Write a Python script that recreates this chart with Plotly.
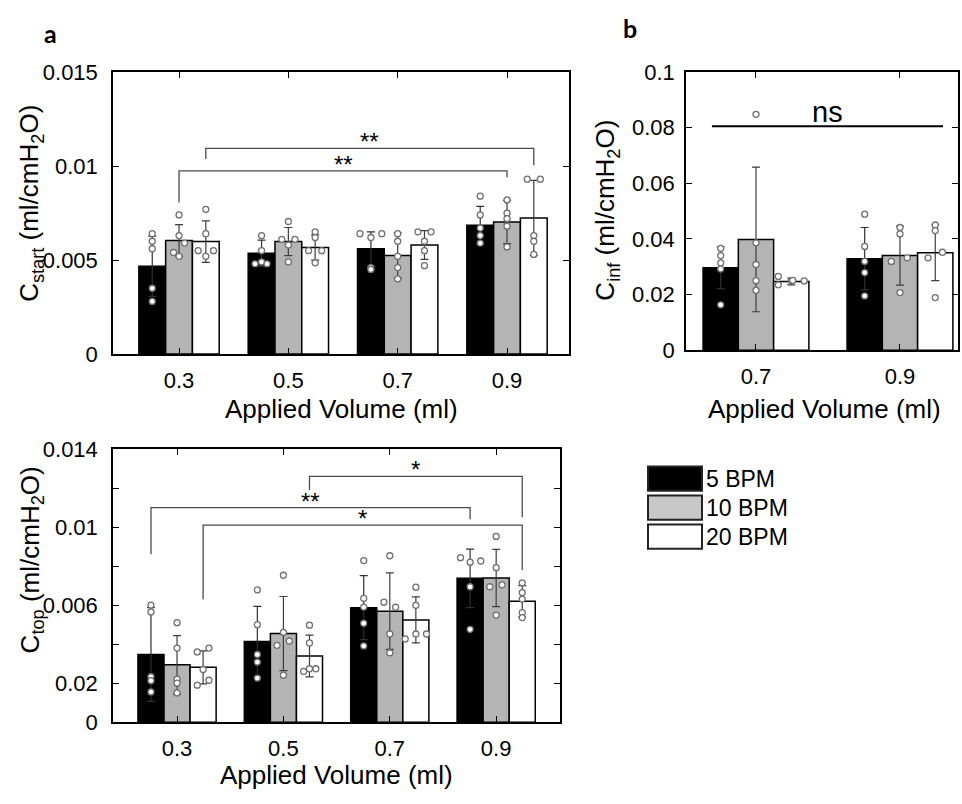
import plotly.graph_objects as go

# ---------------- data ----------------
volumes = ["0.3", "0.5", "0.7", "0.9"]
volumes_b = ["0.7", "0.9"]
series = ["5 BPM", "10 BPM", "20 BPM"]

# Panel a (top): C_start
start_mean_5 = [0.00467, 0.00536, 0.00560, 0.00685]
start_mean_10 = [0.00604, 0.00598, 0.00524, 0.00702]
start_mean_20 = [0.00598, 0.00567, 0.00580, 0.00724]
start_sd_5 = [0.0016, 0.0007, 0.0009, 0.0010]
start_sd_10 = [0.00084, 0.00075, 0.0012, 0.00115]
start_sd_20 = [0.0011, 0.00067, 0.00076, 0.0020]
start_pts_5 = [[0.0064, 0.0060, 0.0056, 0.0035, 0.0028],
               [0.0063, 0.0055, 0.0049, 0.0048, 0.0048],
               [0.0064, 0.0064, 0.0062, 0.0046, 0.0045],
               [0.0084, 0.0074, 0.0067, 0.0063, 0.0059]]
start_pts_10 = [[0.0074, 0.0063, 0.0059, 0.0054, 0.0052],
                [0.00705, 0.0061, 0.0061, 0.0058, 0.0049],
                [0.0064, 0.0060, 0.0052, 0.0046, 0.0040],
                [0.0082, 0.0075, 0.0072, 0.0068, 0.0057]]
start_pts_20 = [[0.0077, 0.0064, 0.0055, 0.0055, 0.0052],
                [0.0065, 0.0062, 0.0055, 0.0055, 0.00485],
                [0.0065, 0.0065, 0.0060, 0.0055, 0.0047],
                [0.0093, 0.0093, 0.0063, 0.0060, 0.0053]]

# Panel b: C_inf
inf_mean_5 = [0.0296, 0.0329]
inf_mean_10 = [0.0398, 0.0340]
inf_mean_20 = [0.0247, 0.0350]
inf_sd_5 = [0.0075, 0.0112]
inf_sd_10 = [0.0260, 0.0106]
inf_sd_20 = [0.0012, 0.0100]
inf_pts_5 = [[0.0366, 0.0340, 0.0314, 0.0292, 0.0163],
             [0.0489, 0.0373, 0.0319, 0.0279, 0.0195]]
inf_pts_10 = [[0.0848, 0.0386, 0.0308, 0.0250, 0.0215],
              [0.0441, 0.0418, 0.0332, 0.0319, 0.0207]]
inf_pts_20 = [[0.0265, 0.0235, 0.0250, 0.0251, 0.0249],
              [0.0450, 0.0430, 0.0352, 0.0332, 0.0189]]

# Panel a (bottom): C_top
top_mean_5 = [0.00347, 0.00414, 0.00587, 0.00737]
top_mean_10 = [0.00294, 0.00454, 0.00569, 0.00739]
top_mean_20 = [0.00281, 0.00339, 0.00524, 0.00620]
top_sd_5 = [0.0024, 0.0018, 0.00164, 0.0015]
top_sd_10 = [0.0015, 0.0019, 0.00196, 0.00147]
top_sd_20 = [0.00085, 0.00107, 0.00118, 0.0008]
top_pts_5 = [[0.0060, 0.00565, 0.00233, 0.00213, 0.00155],
             [0.00678, 0.0050, 0.00347, 0.00308, 0.00226],
             [0.00828, 0.00635, 0.0059, 0.00507, 0.00391],
             [0.00843, 0.0082, 0.00826, 0.00694, 0.00476]]
top_pts_10 = [[0.0051, 0.0038, 0.0022, 0.0020, 0.0015],
              [0.00753, 0.0046, 0.00394, 0.00416, 0.00241],
              [0.00853, 0.00615, 0.00589, 0.00452, 0.00356],
              [0.00952, 0.00792, 0.00694, 0.00704, 0.00549]]
top_pts_20 = [[0.0036, 0.0038, 0.0027, 0.0019, 0.00215],
              [0.00497, 0.00406, 0.0026, 0.00274, 0.00274],
              [0.00692, 0.00599, 0.00427, 0.00452, 0.00452],
              [0.00714, 0.00664, 0.00631, 0.00562, 0.00536]]

# significance brackets: (from cat, from series, to cat, to series, y, left leg end, right leg end, label)
start_sig = [(1, 1, 4, 1, 0.00974, 0.00806, 0.0094, "**"),
             (1, 2, 4, 2, 0.01094, 0.01038, 0.01004, "**")]
top_sig = [(2, 2, 4, 2, 0.0126, 0.0119, 0.0105, "*"),
           (1, 0, 4, 0, 0.0110, 0.0086, 0.0104, "**"),
           (1, 2, 4, 2, 0.0101, 0.0063, 0.0078, "*")]
inf_ns = (0.694, 2.299, 0.0805, "ns")

# ---------------- styles ----------------
W, H = 962, 804
FONT = "Liberation Sans, Arial, sans-serif"
BAR_W = 0.245
FILLS = ["#000000", "#b4b4b4", "#ffffff"]
ERR_COLORS = ["#303030", "#3c3c3c", "#3c3c3c"]
LEG_FILLS = ["#000000", "#c8c8c8", "#ffffff"]

# point jitter (style only), indexed [series][category][point]
start_jit = [[[0, 0, 0, 0, 0], [0, 0, 0, -0.06, 0.05], [-0.1, 0.1, 0, 0, 0], [0, 0, 0, 0, 0]],
             [[0, 0, 0.05, -0.05, 0], [0, -0.06, 0.06, 0, 0], [0, 0, 0, 0, 0], [0, 0, 0, 0, 0]],
             [[0, 0, -0.07, 0.07, 0], [0, 0, -0.06, 0.06, 0], [-0.06, 0.06, 0, 0, 0], [-0.06, 0.06, 0, 0, 0]]]
inf_jit = [[[0, 0, 0, 0, 0], [0, 0, 0, 0, 0]],
           [[0, 0, 0, 0, 0], [0, 0, 0.05, -0.06, 0]],
           [[-0.09, -0.09, 0, 0.01, 0.09], [0, 0, 0.05, -0.05, 0]]]
top_jit = [[[0, 0, 0, 0, 0], [0, 0, 0, 0, 0], [0, 0, 0, 0, 0], [-0.09, 0, 0.1, 0, 0]],
           [[0, 0, 0, 0, 0], [0, 0, -0.06, 0.055, 0], [0, -0.055, 0.055, 0, 0], [0, 0, -0.06, 0.055, 0]],
           [[-0.055, 0.055, 0, -0.055, 0.055], [0, 0, -0.055, 0, 0.06], [0, 0, -0.1, 0, 0.1], [0, 0, 0, 0, 0]]]


def px(x):
    return x / W


def py(y):
    return 1 - y / H


def bar_center(cat, s):
    return cat + (s - 1) * BAR_W


fig = go.Figure()


def add_panel(xa, ya, means, sds, pts, jits, ncat):
    cats = list(range(1, ncat + 1))
    for s in range(3):
        fig.add_trace(go.Bar(
            x=cats, y=means[s], width=BAR_W, offset=-1.5 * BAR_W + s * BAR_W,
            marker=dict(color=FILLS[s], line=dict(color="#000000", width=1.5)),
            error_y=dict(type="data", array=sds[s], color=ERR_COLORS[s], thickness=1.2, width=4),
            xaxis=xa, yaxis=ya, showlegend=False, hoverinfo="skip"))
    for s in range(3):
        xs, ys = [], []
        for c in range(ncat):
            for k, v in enumerate(pts[s][c]):
                xs.append(bar_center(c + 1, s) + jits[s][c][k])
                ys.append(v)
        fig.add_trace(go.Scatter(
            x=xs, y=ys, mode="markers",
            marker=dict(size=6, color="#ffffff", line=dict(color="#707070", width=1.3)),
            xaxis=xa, yaxis=ya, showlegend=False, hoverinfo="skip"))


add_panel("x", "y", [start_mean_5, start_mean_10, start_mean_20],
          [start_sd_5, start_sd_10, start_sd_20],
          [start_pts_5, start_pts_10, start_pts_20], start_jit, 4)
add_panel("x2", "y2", [inf_mean_5, inf_mean_10, inf_mean_20],
          [inf_sd_5, inf_sd_10, inf_sd_20],
          [inf_pts_5, inf_pts_10, inf_pts_20], inf_jit, 2)
add_panel("x3", "y3", [top_mean_5, top_mean_10, top_mean_20],
          [top_sd_5, top_sd_10, top_sd_20],
          [top_pts_5, top_pts_10, top_pts_20], top_jit, 4)

shapes = []
annotations = []


def add_brackets(sig, xref, yref):
    for (c1, s1, c2, s2, yv, l1, l2, lab) in sig:
        x1 = bar_center(c1, s1)
        x2 = bar_center(c2, s2)
        shapes.append(dict(type="path", xref=xref, yref=yref,
                           path=f"M {x1},{l1} L {x1},{yv} L {x2},{yv} L {x2},{l2}",
                           line=dict(color="#4a4a4a", width=1.3)))
        annotations.append(dict(x=(x1 + x2) / 2, y=yv, xref=xref, yref=yref, text=lab,
                                showarrow=False, yanchor="bottom", yshift=-9,
                                font=dict(family=FONT, size=24, color="#000000")))


add_brackets(start_sig, "x", "y")
add_brackets(top_sig, "x3", "y3")

# ns line
shapes.append(dict(type="line", xref="x2", yref="y2", x0=inf_ns[0], x1=inf_ns[1],
                   y0=inf_ns[2], y1=inf_ns[2], line=dict(color="#000000", width=2)))
annotations.append(dict(x=(inf_ns[0] + inf_ns[1]) / 2, y=inf_ns[2], xref="x2", yref="y2",
                        text=inf_ns[3], showarrow=False, yanchor="bottom", yshift=-4,
                        font=dict(family=FONT, size=29, color="#000000")))

# legend (drawn manually)
for i, name in enumerate(series):
    top = 469 + i * 30
    shapes.append(dict(type="rect", xref="paper", yref="paper",
                       x0=px(648), x1=px(702), y0=py(top + 25), y1=py(top),
                       fillcolor=LEG_FILLS[i], line=dict(color="#222222", width=2)))
    annotations.append(dict(x=px(704), y=py(top + 13), xref="paper", yref="paper",
                            text=name, showarrow=False, xanchor="left", yanchor="middle",
                            font=dict(family=FONT, size=23, color="#000000")))

# axis titles
TITLE_FONT = dict(family=FONT, size=26, color="#000000")
for (x, y, t) in [(341, 410, "Applied Volume (ml)"), (824, 410, "Applied Volume (ml)"),
                  (336, 788, "Applied Volume (ml)")]:
    annotations.append(dict(x=px(x), y=py(y), xref="paper", yref="paper", text=t,
                            showarrow=False, xanchor="center", yanchor="middle", font=TITLE_FONT))
for (x, y, t) in [(31, 198, "C<sub>start</sub> (ml/cmH<sub>2</sub>O)"),
                  (607, 205, "C<sub>inf</sub> (ml/cmH<sub>2</sub>O)"),
                  (31, 566, "C<sub>top</sub> (ml/cmH<sub>2</sub>O)")]:
    annotations.append(dict(x=px(x), y=py(y), xref="paper", yref="paper", text=t,
                            showarrow=False, xanchor="center", yanchor="middle",
                            textangle=-90, font=TITLE_FONT))

# panel letters
for (x, y, t) in [(50, 22, "a"), (630, 17, "b")]:
    annotations.append(dict(x=px(x), y=py(y), xref="paper", yref="paper", text=f"<b>{t}</b>",
                            showarrow=False, xanchor="center", yanchor="middle",
                            font=dict(family="Lato, Open Sans, sans-serif", size=25, color="#000000")))

TICKFONT = dict(family=FONT, size=22, color="#000000")
common = dict(showline=True, linecolor="#000000", linewidth=1.5, mirror="ticks",
              ticks="inside", ticklen=6, tickwidth=1.2, tickcolor="#000000",
              showgrid=False, zeroline=False, tickfont=TICKFONT, fixedrange=True)

fig.update_layout(
    width=W, height=H, margin=dict(l=0, r=0, t=0, b=0),
    paper_bgcolor="#ffffff", plot_bgcolor="#ffffff",
    barmode="overlay", showlegend=False,
    shapes=shapes, annotations=annotations,
    xaxis=dict(domain=[px(113), px(569)], range=[0.396, 4.567], anchor="y",
               tickvals=[1, 2, 3, 4], ticktext=volumes, ticklabelstandoff=6, **common),
    yaxis=dict(domain=[py(353), py(62)], range=[0, 0.015], anchor="x",
               tickvals=[0, 0.005, 0.01, 0.015], ticktext=["0", "0.005", "0.01", "0.015"],
               ticklabelstandoff=9, **common),
    xaxis2=dict(domain=[px(686), px(958)], range=[0.514, 2.403], anchor="y2",
                tickvals=[1, 2], ticktext=volumes_b, ticklabelstandoff=6, **common),
    yaxis2=dict(domain=[py(349), py(62)], range=[0, 0.1], anchor="x2",
                tickvals=[0, 0.02, 0.04, 0.06, 0.08, 0.1],
                ticktext=["0", "0.02", "0.04", "0.06", "0.08", "0.1"],
                ticklabelstandoff=5, **common),
    xaxis3=dict(domain=[px(113), px(560)], range=[0.398, 4.60], anchor="y3",
                tickvals=[1, 2, 3, 4], ticktext=volumes, ticklabelstandoff=6, **common),
    yaxis3=dict(domain=[py(733), py(451)], range=[0, 0.014], anchor="x3",
                tickvals=[0, 0.002, 0.004, 0.006, 0.008, 0.01, 0.012, 0.014],
                ticktext=["0", "0.02", "", "0.006", "", "0.01", "", "0.014"],
                ticklabelstandoff=9, **common),
)

fig.write_html("out.html", config={"displayModeBar": False},
               post_script="document.body.style.margin='0';document.body.style.overflow='hidden';")
